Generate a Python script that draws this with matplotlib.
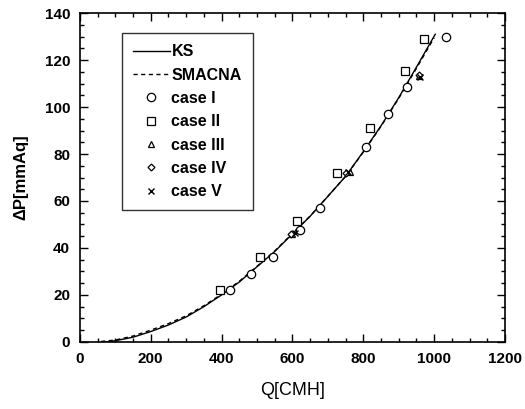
import matplotlib
matplotlib.use("Agg")
import matplotlib.pyplot as plt
from matplotlib.ticker import MultipleLocator

plt.rcParams['font.family'] = ['Liberation Sans', 'DejaVu Sans']

# Curves
ks_q = [75, 100, 150, 200, 250, 300, 350, 400, 450, 500, 550, 600, 650, 700, 750, 800, 850, 900, 950, 1003]
ks_dp = [0.0, 0.5, 2.0, 4.4, 7.2, 10.6, 15.0, 20.0, 25.5, 32.0, 38.5, 46.0, 53.5, 62.0, 70.5, 81.0, 92.0, 104.0, 117.0, 131.0]
sm_q = [60, 100, 150, 200, 250, 300, 350, 400, 450, 500, 550, 600, 650, 700, 750, 800, 850, 900, 950, 1000]
sm_dp = [0.2, 0.8, 2.5, 5.0, 7.8, 11.1, 15.4, 20.3, 25.8, 32.2, 38.7, 46.2, 53.6, 62.0, 70.5, 80.8, 91.8, 103.7, 116.5, 129.5]

# Measured cases
c1_q = [423, 482, 544, 621, 678, 809, 869, 922, 1032]
c1_dp = [22.0, 28.8, 36.2, 47.8, 57.2, 83.0, 97.2, 108.5, 129.8]
c2_q = [395, 508, 612, 727, 819, 918, 971]
c2_dp = [22.0, 36.2, 51.5, 72.0, 91.2, 115.3, 129.0]
c3_q = [600, 762, 958]
c3_dp = [46.0, 72.3, 113.3]
c4_q = [597, 752, 956]
c4_dp = [46.0, 72.0, 113.5]
c5_q = [607, 758, 960]
c5_dp = [46.3, 72.3, 113.0]

fig = plt.figure(figsize=(5.25, 4.09), dpi=100)
ax = fig.add_axes([0.152, 0.164, 0.810, 0.804])

ax.plot(ks_q, ks_dp, color='black', lw=1.0, label='KS')
ax.plot(sm_q, sm_dp, color='black', lw=1.0, ls=(0, (3, 2.5)), label='SMACNA')
mk = dict(ls='none', mfc='white', mec='black', mew=0.9, color='black')
ax.plot(c1_q, c1_dp, marker='o', ms=6, label='case I', **mk)
ax.plot(c2_q, c2_dp, marker='s', ms=6, label='case II', **mk)
ax.plot(c3_q, c3_dp, marker='^', ms=5, label='case III', **mk)
ax.plot(c4_q, c4_dp, marker='D', ms=3.5, label='case IV', **mk)
ax.plot(c5_q, c5_dp, marker='x', ms=5, label='case V', ls='none', color='black', mew=1.0)

ax.set_xlim(0, 1200)
ax.set_ylim(0, 140)
ax.xaxis.set_major_locator(MultipleLocator(200))
ax.xaxis.set_minor_locator(MultipleLocator(50))
ax.yaxis.set_major_locator(MultipleLocator(20))
ax.yaxis.set_minor_locator(MultipleLocator(5))
ax.tick_params(which='both', direction='in', top=True, right=True, width=1.0)
ax.tick_params(which='major', length=6, labelsize=11, pad=7)
ax.tick_params(which='minor', length=3)
for lab in ax.get_xticklabels() + ax.get_yticklabels():
    lab.set_fontweight('bold')
for s in ax.spines.values():
    s.set_linewidth(1.2)

ax.set_xlabel('Q[CMH]', fontsize=13, labelpad=12)
ax.set_ylabel('ΔP[mmAq]', fontsize=12, fontweight='bold', labelpad=12)

leg = ax.legend(loc='upper left', bbox_to_anchor=(0.099, 0.939), frameon=True, fancybox=False,
                edgecolor='black', handlelength=2.3, handletextpad=0.1, labelspacing=0.52,
                borderpad=0.7, prop={'size': 11.5, 'weight': 'bold'}, borderaxespad=0)
leg.get_frame().set_linewidth(1.0)

fig.savefig('out.png', dpi=100)
